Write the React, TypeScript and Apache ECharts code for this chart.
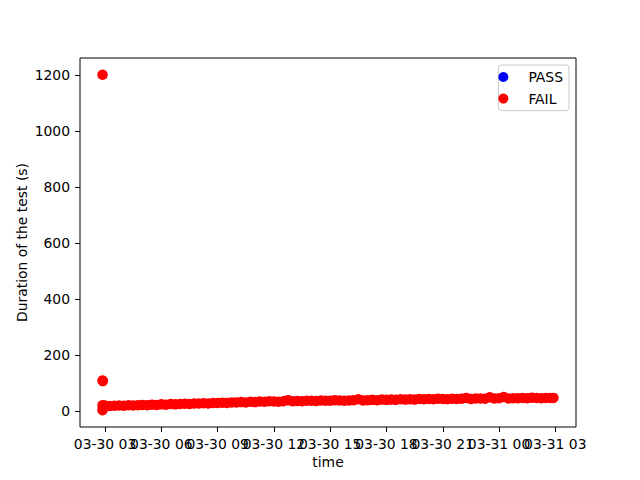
import React, { useEffect, useRef } from "react";
import * as echarts from "echarts";

// Tick labels of the axes
const xTickTimes = [
  "03-30 03:00", "03-30 06:00", "03-30 09:00", "03-30 12:00", "03-30 15:00",
  "03-30 18:00", "03-30 21:00", "03-31 00:00", "03-31 03:00",
];
const xTickLabels = [
  "03-30 03", "03-30 06", "03-30 09", "03-30 12", "03-30 15",
  "03-30 18", "03-30 21", "03-31 00", "03-31 03",
];
const yTickValues = [0, 200, 400, 600, 800, 1000, 1200];

// PASS series: no points visible in the chart
const passPoints: [string, number][] = [];

// FAIL series: outliers at the start of the run
const failOutliers: [string, number][] = [
  ["03-30 02:52", 1200],
  ["03-30 02:52", 108],
  ["03-30 02:53", 106],
  ["03-30 02:52", 2],
  ["03-30 02:53", 10],
  ["03-30 02:52", 20],
];

// FAIL series: the dense band of test durations (read every 15 minutes)
const failBand: [string, number][] = [
  ["03-30 03:00", 19], ["03-30 03:15", 17], ["03-30 03:30", 18], ["03-30 03:45", 19],
  ["03-30 04:00", 18], ["03-30 04:15", 20], ["03-30 04:30", 19], ["03-30 04:45", 20],
  ["03-30 05:00", 21], ["03-30 05:15", 20], ["03-30 05:30", 22], ["03-30 05:45", 21],
  ["03-30 06:00", 23], ["03-30 06:15", 22], ["03-30 06:30", 24], ["03-30 06:45", 23],
  ["03-30 07:00", 24], ["03-30 07:15", 25], ["03-30 07:30", 24], ["03-30 07:45", 26],
  ["03-30 08:00", 26], ["03-30 08:15", 27], ["03-30 08:30", 26], ["03-30 08:45", 28],
  ["03-30 09:00", 28], ["03-30 09:15", 29], ["03-30 09:30", 28], ["03-30 09:45", 30],
  ["03-30 10:00", 30], ["03-30 10:15", 31], ["03-30 10:30", 30], ["03-30 10:45", 32],
  ["03-30 11:00", 31], ["03-30 11:15", 33], ["03-30 11:30", 32], ["03-30 11:45", 34],
  ["03-30 12:00", 33], ["03-30 12:15", 32], ["03-30 12:30", 34], ["03-30 12:45", 38],
  ["03-30 13:00", 34], ["03-30 13:15", 35], ["03-30 13:30", 34], ["03-30 13:45", 36],
  ["03-30 14:00", 36], ["03-30 14:15", 35], ["03-30 14:30", 37], ["03-30 14:45", 36],
  ["03-30 15:00", 36], ["03-30 15:15", 38], ["03-30 15:30", 37], ["03-30 15:45", 36],
  ["03-30 16:00", 37], ["03-30 16:15", 38], ["03-30 16:30", 41], ["03-30 16:45", 37],
  ["03-30 17:00", 38], ["03-30 17:15", 39], ["03-30 17:30", 38], ["03-30 17:45", 40],
  ["03-30 18:00", 39], ["03-30 18:15", 40], ["03-30 18:30", 39], ["03-30 18:45", 41],
  ["03-30 19:00", 40], ["03-30 19:15", 41], ["03-30 19:30", 40], ["03-30 19:45", 42],
  ["03-30 20:00", 41], ["03-30 20:15", 42], ["03-30 20:30", 41], ["03-30 20:45", 43],
  ["03-30 21:00", 42], ["03-30 21:15", 41], ["03-30 21:30", 43], ["03-30 21:45", 42],
  ["03-30 22:00", 43], ["03-30 22:15", 46], ["03-30 22:30", 42], ["03-30 22:45", 44],
  ["03-30 23:00", 44], ["03-30 23:15", 43], ["03-30 23:30", 48], ["03-30 23:45", 44],
  ["03-31 00:00", 45], ["03-31 00:15", 49], ["03-31 00:30", 44], ["03-31 00:45", 45],
  ["03-31 01:00", 45], ["03-31 01:15", 46], ["03-31 01:30", 45], ["03-31 01:45", 47],
  ["03-31 02:00", 46], ["03-31 02:15", 45], ["03-31 02:30", 46], ["03-31 02:45", 46],
  ["03-31 02:54", 46],
];

const FONT = "DejaVu Sans";
const FS = 13.9;

function toMs(s: string): number {
  return new Date("2023-" + s.replace(" ", "T") + ":00").getTime();
}

export default function App() {
  const ref = useRef<HTMLDivElement>(null);

  useEffect(() => {
    if (!ref.current) return;
    const chart = echarts.init(ref.current, undefined, { renderer: "svg" });

    const failData = [...failOutliers, ...failBand].map(([t, v]) => [toMs(t), v]);
    const passData = passPoints.map(([t, v]) => [toMs(t), v]);
    const xs = failData.map((d) => d[0]);
    const ys = failData.map((d) => d[1]);
    const xMin = Math.min(...xs), xMax = Math.max(...xs);
    const yMin = Math.min(...ys), yMax = Math.max(...ys);
    const xPad = 0.05 * (xMax - xMin);
    const yPad = 0.05 * (yMax - yMin);
    const xTickMs = xTickTimes.map(toMs);
    // split the labels over two overlaid axes so that neighbours may overlap
    const evenTicks = xTickMs.filter((_, i) => i % 2 === 0);
    const oddTicks = xTickMs.filter((_, i) => i % 2 === 1);
    const fmt = (v: number) => {
      const i = xTickMs.findIndex((t) => Math.abs(t - v) < 1000);
      return i >= 0 ? xTickLabels[i] : "";
    };
    const labelStyle = {
      margin: 10,
      fontFamily: FONT,
      fontSize: FS,
      color: "#000000",
      hideOverlap: false,
      showMinLabel: true,
      showMaxLabel: true,
      formatter: fmt,
    };

    chart.setOption({
      animation: false,
      backgroundColor: "#ffffff",
      textStyle: { fontFamily: FONT },
      grid: {
        left: 80,
        right: 64,
        top: 58,
        bottom: 53,
        show: true,
        borderColor: "#000000",
        borderWidth: 1,
        backgroundColor: "transparent",
      },
      legend: {
        orient: "vertical",
        right: 71,
        top: 65,
        padding: [5, 6, 5, 0],
        itemWidth: 40,
        itemHeight: 10,
        itemGap: 7.6,
        icon: "circle",
        borderColor: "#c8c8c8",
        borderWidth: 1,
        borderRadius: 3,
        backgroundColor: "rgba(255,255,255,0.8)",
        textStyle: { fontFamily: FONT, fontSize: FS, lineHeight: 14, color: "#000000" },
        data: ["PASS", "FAIL"],
      },
      xAxis: [
        {
          type: "value",
          position: "bottom",
          min: xMin - xPad,
          max: xMax + xPad,
          name: "time",
          nameLocation: "middle",
          nameGap: 28,
          nameMoveOverlap: false,
          nameTextStyle: { fontFamily: FONT, fontSize: FS, color: "#000000" },
          splitLine: { show: false },
          axisLine: { show: false, onZero: false },
          axisTick: {
            show: true,
            length: 5,
            lineStyle: { color: "#000000", width: 1 },
            customValues: evenTicks,
          },
          axisLabel: { ...labelStyle, customValues: evenTicks },
        },
        {
          type: "value",
          position: "bottom",
          offset: 0,
          min: xMin - xPad,
          max: xMax + xPad,
          splitLine: { show: false },
          axisLine: { show: false, onZero: false },
          axisTick: {
            show: true,
            length: 5,
            lineStyle: { color: "#000000", width: 1 },
            customValues: oddTicks,
          },
          axisLabel: { ...labelStyle, customValues: oddTicks },
        },
      ],
      yAxis: {
        type: "value",
        min: yMin - yPad,
        max: yMax + yPad,
        name: "Duration of the test (s)",
        nameLocation: "middle",
        nameGap: 51,
        nameMoveOverlap: false,
        nameTextStyle: { fontFamily: FONT, fontSize: FS, color: "#000000" },
        splitLine: { show: false },
        axisLine: { show: false, onZero: false },
        axisTick: {
          show: true,
          length: 5,
          lineStyle: { color: "#000000", width: 1 },
          customValues: yTickValues,
        },
        axisLabel: {
          margin: 10,
          fontFamily: FONT,
          fontSize: FS,
          color: "#000000",
          showMinLabel: true,
          showMaxLabel: true,
          customValues: yTickValues,
          formatter: (v: number) => String(v),
        },
      },
      series: [
        {
          name: "PASS",
          type: "scatter",
          xAxisIndex: 0,
          data: passData,
          symbol: "circle",
          symbolSize: 10.5,
          itemStyle: { color: "#0000ff", opacity: 1 },
        },
        {
          name: "FAIL",
          type: "scatter",
          xAxisIndex: 0,
          data: failData,
          symbol: "circle",
          symbolSize: 10.5,
          itemStyle: { color: "#ff0000", opacity: 1 },
          large: false,
        },
      ],
    });

    return () => chart.dispose();
  }, []);

  return (
    <div
      ref={ref}
      style={{ position: "fixed", left: 0, top: 0, width: 640, height: 480 }}
    />
  );
}
